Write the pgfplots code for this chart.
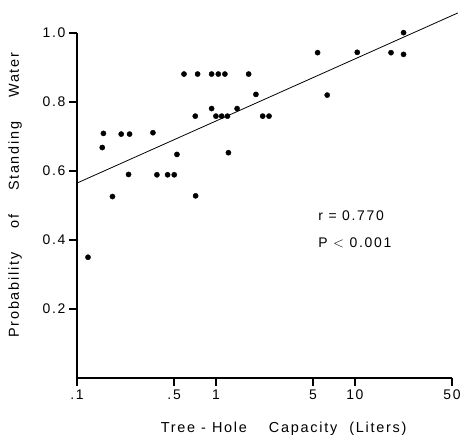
\documentclass[border=0pt]{standalone}
\usepackage{fontspec}
\setmainfont{Liberation Sans}
\newfontfamily\lblfont[LetterSpace=12]{Liberation Sans}
\newfontfamily\tickfont[LetterSpace=12]{Liberation Sans}
\usepackage{pgfplots}
\pgfplotsset{compat=1.18}
\usetikzlibrary{calc}
\pgfplotstableread{
x y
0.120 0.350
0.152 0.668
0.155 0.709
0.180 0.526
0.208 0.707
0.235 0.590
0.239 0.707
0.352 0.711
0.376 0.589
0.449 0.589
0.501 0.589
0.524 0.648
0.589 0.881
0.714 0.528
0.710 0.759
0.738 0.881
0.931 0.881
0.931 0.781
1.000 0.759
1.040 0.881
1.100 0.759
1.160 0.881
1.210 0.759
1.230 0.653
1.420 0.781
1.720 0.881
1.940 0.822
2.170 0.759
2.410 0.759
5.390 0.943
6.320 0.820
10.40 0.944
18.20 0.943
22.40 1.001
22.40 0.938
}\pts
\begin{document}
\begin{tikzpicture}
\begin{axis}[
  scale only axis, width=375bp, height=345bp,
  xmode=log, xmin=0.1, xmax=50, ymin=0, ymax=1,
  axis lines=left,
  axis line style={-, line width=1.1bp},
  tick align=outside, major tick length=8bp,
  tick style={black, line width=1.6bp},
  xtick={0.1,0.5,1,5,10,50}, xticklabels={.1,.5,1,5,10,50},
  minor xtick={},
  ytick={0.2,0.4,0.6,0.8,1.0}, yticklabels={0.2,0.4,0.6,0.8,1.0},
  tick label style={font=\tickfont\fontsize{14}{16}\selectfont},
  clip=false,
  xlabel={Tree\hspace{6bp}-\hspace{6bp}Hole\hspace{22bp}Capacity\hspace{12bp}(Liters)},
  ylabel={Probability\hspace{24bp}of\hspace{24bp}Standing\hspace{24bp}Water},
  xlabel style={font=\lblfont\fontsize{14.5}{16}\selectfont, at={(axis description cs:0.551,-0.148)}, anchor=center},
  ylabel style={font=\lblfont\fontsize{14.5}{16}\selectfont, at={(axis description cs:-0.165,0.53)}, anchor=center},
]
\addplot[only marks, mark=*, mark size=2.6bp, black] table[x=x,y=y] {\pts};
\addplot[black, line width=0.8bp, no marks] coordinates {(0.1,0.565) (55,1.058)};
\foreach \yy in {0.2,0.4,0.6,0.8,1.0} {
  \edef\tmp{\noexpand\fill[black] (axis cs:0.1,\yy) ++(-8bp,-0.8bp) rectangle ++(8bp,1.6bp);}\tmp
}
\foreach \xx in {0.1,0.5,1,5,10,50} {
  \edef\tmp{\noexpand\fill[black] (axis cs:\xx,0) ++(-0.8bp,-8bp) rectangle ++(1.6bp,8bp);}\tmp
}
\node[anchor=west, font=\tickfont\fontsize{14}{16}\selectfont] at (axis cs:5.15,0.470) {r = 0.770};
\node[anchor=west, font=\tickfont\fontsize{14}{16}\selectfont] at (axis cs:5.15,0.391) {P $<$ 0.001};
\end{axis}
\pgfresetboundingbox
\path ($(current axis.south west)+(-77bp,-61bp)$) rectangle ($(current axis.north east)+(11bp,33bp)$);
\end{tikzpicture}
\end{document}
